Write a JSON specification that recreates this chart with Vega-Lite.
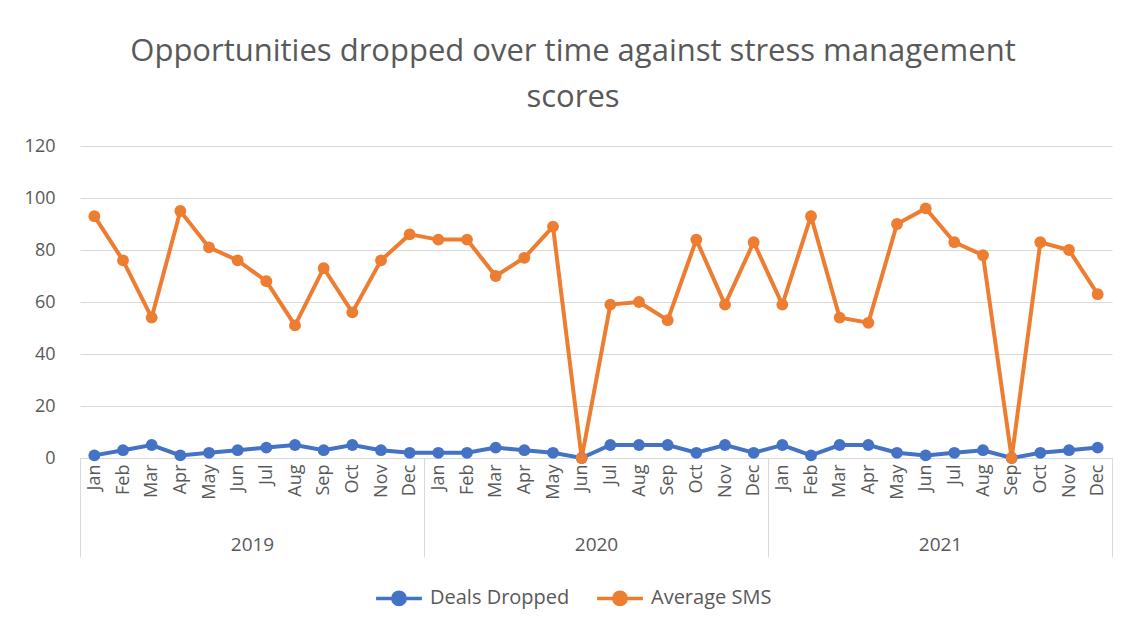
{
  "$schema": "https://vega.github.io/schema/vega-lite/v6.json",
  "autosize": {"type": "none"},
  "width": 1032,
  "height": 312,
  "padding": {"left": 80, "top": 146, "right": 19, "bottom": 170},
  "background": "white",
  "title": {
    "text": ["Opportunities dropped over time against stress management", "scores"],
    "font": "Open Sans", "fontSize": 31, "fontWeight": "normal", "color": "#595959",
    "anchor": "middle", "dx": -23, "lineHeight": 46, "offset": 23
  },
  "data": {"values": [
    {"key":"2019 Jan","year":"2019","series":"Deals Dropped","value":1},
    {"key":"2019 Feb","year":"2019","series":"Deals Dropped","value":3},
    {"key":"2019 Mar","year":"2019","series":"Deals Dropped","value":5},
    {"key":"2019 Apr","year":"2019","series":"Deals Dropped","value":1},
    {"key":"2019 May","year":"2019","series":"Deals Dropped","value":2},
    {"key":"2019 Jun","year":"2019","series":"Deals Dropped","value":3},
    {"key":"2019 Jul","year":"2019","series":"Deals Dropped","value":4},
    {"key":"2019 Aug","year":"2019","series":"Deals Dropped","value":5},
    {"key":"2019 Sep","year":"2019","series":"Deals Dropped","value":3},
    {"key":"2019 Oct","year":"2019","series":"Deals Dropped","value":5},
    {"key":"2019 Nov","year":"2019","series":"Deals Dropped","value":3},
    {"key":"2019 Dec","year":"2019","series":"Deals Dropped","value":2},
    {"key":"2020 Jan","year":"2020","series":"Deals Dropped","value":2},
    {"key":"2020 Feb","year":"2020","series":"Deals Dropped","value":2},
    {"key":"2020 Mar","year":"2020","series":"Deals Dropped","value":4},
    {"key":"2020 Apr","year":"2020","series":"Deals Dropped","value":3},
    {"key":"2020 May","year":"2020","series":"Deals Dropped","value":2},
    {"key":"2020 Jun","year":"2020","series":"Deals Dropped","value":0},
    {"key":"2020 Jul","year":"2020","series":"Deals Dropped","value":5},
    {"key":"2020 Aug","year":"2020","series":"Deals Dropped","value":5},
    {"key":"2020 Sep","year":"2020","series":"Deals Dropped","value":5},
    {"key":"2020 Oct","year":"2020","series":"Deals Dropped","value":2},
    {"key":"2020 Nov","year":"2020","series":"Deals Dropped","value":5},
    {"key":"2020 Dec","year":"2020","series":"Deals Dropped","value":2},
    {"key":"2021 Jan","year":"2021","series":"Deals Dropped","value":5},
    {"key":"2021 Feb","year":"2021","series":"Deals Dropped","value":1},
    {"key":"2021 Mar","year":"2021","series":"Deals Dropped","value":5},
    {"key":"2021 Apr","year":"2021","series":"Deals Dropped","value":5},
    {"key":"2021 May","year":"2021","series":"Deals Dropped","value":2},
    {"key":"2021 Jun","year":"2021","series":"Deals Dropped","value":1},
    {"key":"2021 Jul","year":"2021","series":"Deals Dropped","value":2},
    {"key":"2021 Aug","year":"2021","series":"Deals Dropped","value":3},
    {"key":"2021 Sep","year":"2021","series":"Deals Dropped","value":0},
    {"key":"2021 Oct","year":"2021","series":"Deals Dropped","value":2},
    {"key":"2021 Nov","year":"2021","series":"Deals Dropped","value":3},
    {"key":"2021 Dec","year":"2021","series":"Deals Dropped","value":4},
    {"key":"2019 Jan","year":"2019","series":"Average SMS","value":93},
    {"key":"2019 Feb","year":"2019","series":"Average SMS","value":76},
    {"key":"2019 Mar","year":"2019","series":"Average SMS","value":54},
    {"key":"2019 Apr","year":"2019","series":"Average SMS","value":95},
    {"key":"2019 May","year":"2019","series":"Average SMS","value":81},
    {"key":"2019 Jun","year":"2019","series":"Average SMS","value":76},
    {"key":"2019 Jul","year":"2019","series":"Average SMS","value":68},
    {"key":"2019 Aug","year":"2019","series":"Average SMS","value":51},
    {"key":"2019 Sep","year":"2019","series":"Average SMS","value":73},
    {"key":"2019 Oct","year":"2019","series":"Average SMS","value":56},
    {"key":"2019 Nov","year":"2019","series":"Average SMS","value":76},
    {"key":"2019 Dec","year":"2019","series":"Average SMS","value":86},
    {"key":"2020 Jan","year":"2020","series":"Average SMS","value":84},
    {"key":"2020 Feb","year":"2020","series":"Average SMS","value":84},
    {"key":"2020 Mar","year":"2020","series":"Average SMS","value":70},
    {"key":"2020 Apr","year":"2020","series":"Average SMS","value":77},
    {"key":"2020 May","year":"2020","series":"Average SMS","value":89},
    {"key":"2020 Jun","year":"2020","series":"Average SMS","value":0},
    {"key":"2020 Jul","year":"2020","series":"Average SMS","value":59},
    {"key":"2020 Aug","year":"2020","series":"Average SMS","value":60},
    {"key":"2020 Sep","year":"2020","series":"Average SMS","value":53},
    {"key":"2020 Oct","year":"2020","series":"Average SMS","value":84},
    {"key":"2020 Nov","year":"2020","series":"Average SMS","value":59},
    {"key":"2020 Dec","year":"2020","series":"Average SMS","value":83},
    {"key":"2021 Jan","year":"2021","series":"Average SMS","value":59},
    {"key":"2021 Feb","year":"2021","series":"Average SMS","value":93},
    {"key":"2021 Mar","year":"2021","series":"Average SMS","value":54},
    {"key":"2021 Apr","year":"2021","series":"Average SMS","value":52},
    {"key":"2021 May","year":"2021","series":"Average SMS","value":90},
    {"key":"2021 Jun","year":"2021","series":"Average SMS","value":96},
    {"key":"2021 Jul","year":"2021","series":"Average SMS","value":83},
    {"key":"2021 Aug","year":"2021","series":"Average SMS","value":78},
    {"key":"2021 Sep","year":"2021","series":"Average SMS","value":0},
    {"key":"2021 Oct","year":"2021","series":"Average SMS","value":83},
    {"key":"2021 Nov","year":"2021","series":"Average SMS","value":80},
    {"key":"2021 Dec","year":"2021","series":"Average SMS","value":63}
  ]},
  "layer": [
    {
      "encoding": {
        "x": {
          "field": "key", "type": "ordinal", "sort": null,
          "scale": {"type": "point", "padding": 0.5},
          "axis": {
            "title": null, "labelAngle": -90, "labelExpr": "slice(datum.value, 5)",
            "labelFont": "Open Sans", "labelFontSize": 18, "labelColor": "#595959",
            "ticks": false, "domainColor": "#d9d9d9", "labelPadding": 6, "grid": false
          }
        },
        "y": {
          "field": "value", "type": "quantitative",
          "scale": {"domain": [0, 120]},
          "axis": {
            "values": [0, 20, 40, 60, 80, 100, 120], "title": null, "domain": false, "ticks": false,
            "gridColor": "#d9d9d9", "labelFont": "Open Sans", "labelFontSize": 18,
            "labelColor": "#595959", "labelPadding": 25
          }
        },
        "color": {
          "field": "series", "type": "nominal",
          "scale": {"domain": ["Deals Dropped", "Average SMS"], "range": ["#4472C4", "#ED7D31"]},
          "legend": {
            "title": null, "orient": "none", "legendX": 294, "legendY": 427, "direction": "horizontal",
            "labelFont": "Open Sans", "labelFontSize": 20, "labelColor": "#595959",
            "symbolType": "M-1,0L1,0M0.27,0A0.27,0.27,0,1,1,-0.27,0A0.27,0.27,0,1,1,0.27,0Z",
            "symbolSize": 2100, "symbolStrokeWidth": 3.5, "columnPadding": 20,
            "labelOffset": 6,
            "encode": {"symbols": {"update": {
              "fill": {"scale": "color", "field": "value"},
              "stroke": {"scale": "color", "field": "value"},
              "opacity": {"value": 1}
            }}}
          }
        }
      },
      "layer": [
        {"mark": {"type": "line", "strokeWidth": 4}},
        {"mark": {"type": "point", "filled": true, "size": 140, "opacity": 1}}
      ]
    },
    {
      "mark": {"type": "bar", "opacity": 0},
      "encoding": {
        "x": {
          "field": "year", "type": "ordinal",
          "scale": {"type": "band", "paddingInner": 0, "paddingOuter": 0},
          "axis": {
            "orient": "bottom", "title": null, "domain": false, "grid": false,
            "tickBand": "extent", "tickSize": 99, "tickColor": "#d9d9d9",
            "labelPadding": -22, "labelAngle": 0, "labelFont": "Open Sans",
            "labelFontSize": 19, "labelColor": "#595959"
          }
        }
      }
    }
  ],
  "resolve": {"scale": {"x": "independent"}, "axis": {"x": "independent"}},
  "config": {"view": {"stroke": null}}
}
